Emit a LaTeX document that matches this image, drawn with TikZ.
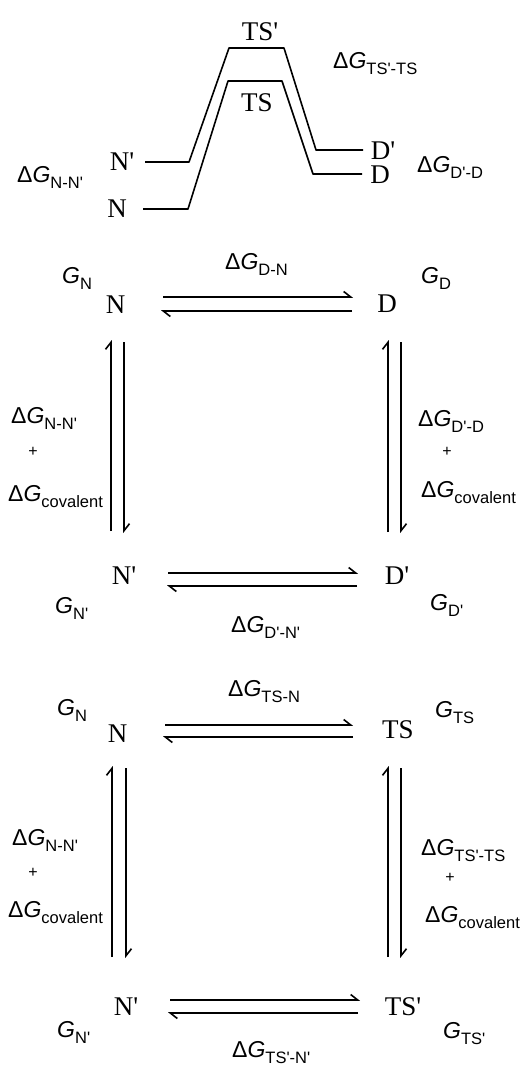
\documentclass[tikz,border=0pt]{standalone}
\usepackage{fontspec}
\setmainfont{Liberation Serif}
\setsansfont{Liberation Sans}
\usetikzlibrary{arrows.meta}
\newcommand\qp{\textquotesingle}
\newcommand\dG[1]{{\sffamily\fontsize{23}{23}\selectfont Δ\textit{G}\raisebox{-6pt}{\fontsize{16.5}{16.5}\selectfont #1}}}
\newcommand\gG[1]{{\sffamily\fontsize{23}{23}\selectfont \textit{G}\raisebox{-6pt}{\fontsize{16.5}{16.5}\selectfont #1}}}
\begin{document}
\begin{tikzpicture}[x=1pt,y=-1pt,
  st/.style={font=\fontsize{27}{27}\selectfont, inner sep=0pt},
  lb/.style={inner sep=0pt, anchor=base west},
  plus/.style={inner sep=0pt, font=\sffamily\fontsize{16}{16}\selectfont},
  harp/.style={line width=1.6pt, -{Straight Barb[harpoon,length=7pt,width=11pt]}},
  prof/.style={line width=1.6pt, line join=round}]
\useasboundingbox (0,0) rectangle (524,1066);

% ---------- energy profile ----------
\node[st] (tTSp) at (260,32) {TS\qp};
\node[st] (tTS) at (257,103) {TS};
\node[st] (tNp) at (122,162) {N\qp};
\node[st] (tN) at (117,209) {N};
\node[st] (tDp) at (383,151) {D\qp};
\node[st] (tD) at (380,175) {D};
\draw[prof] (145,162) -- (189,162) -- (229,48) -- (284,48) -- (316,150) -- (363,150);
\draw[prof] (143,209) -- (188,209) -- (228,81) -- (282,81) -- (313,174) -- (362,174);
\node[lb] (tl1) at (333,68) {\dG{TS\qp-TS}};
\node[lb] (tl2) at (417,172) {\dG{D\qp-D}};
\node[lb] (tl3) at (17,182) {\dG{N-N\qp}};

% ---------- square 1 ----------
\node[st] (aN) at (115.5,305) {N};
\node[st] (aD) at (387,304) {D};
\node[st] (aNp) at (124,576) {N\qp};
\node[st] (aDp) at (397,576) {D\qp};
\node[lb] (a1) at (225,269) {\dG{D-N}};
\node[lb] (a2) at (62,283) {\gG{N}};
\node[lb] (a3) at (421,283) {\gG{D}};
\node[lb] (a4) at (11,423) {\dG{N-N\qp}};
\node[plus] (a5) at (33,452) {+};
\node[lb] (a6) at (8,501) {\dG{covalent}};
\node[lb] (a7) at (418,426) {\dG{D\qp-D}};
\node[plus] (a8) at (447,452) {+};
\node[lb] (a9) at (421,497) {\dG{covalent}};
\node[lb] (a10) at (55,613) {\gG{N\qp}};
\node[lb] (a11) at (430,610) {\gG{D\qp}};
\node[lb] (a12) at (231,632) {\dG{D\qp-N\qp}};

\coordinate (a-h1s) at (163,297); \coordinate (a-h1e) at (353,297);
\coordinate (a-h2s) at (352,311); \coordinate (a-h2e) at (161,311);
\coordinate (a-h3s) at (168,573); \coordinate (a-h3e) at (358,573);
\coordinate (a-h4s) at (357,586); \coordinate (a-h4e) at (167,586);
\coordinate (a-v1s) at (111,531); \coordinate (a-v1e) at (111,340);
\coordinate (a-v2s) at (124,342); \coordinate (a-v2e) at (124,533);
\coordinate (a-v3s) at (388,532); \coordinate (a-v3e) at (388,340);
\coordinate (a-v4s) at (401,342); \coordinate (a-v4e) at (401,533);
\foreach \i in {1,2,3,4}{
  \draw[harp] (a-h\i s) -- (a-h\i e);
  \draw[harp] (a-v\i s) -- (a-v\i e);
}

% ---------- square 2 ----------
\node[st] (bN) at (117.5,734) {N};
\node[st] (bTS) at (398,730) {TS};
\node[st] (bNp) at (126,1007) {N\qp};
\node[st] (bTSp) at (403,1007) {TS\qp};
\node[lb] (b1) at (228,696) {\dG{TS-N}};
\node[lb] (b2) at (57,715) {\gG{N}};
\node[lb] (b3) at (435,717) {\gG{TS}};
\node[lb] (b4) at (12,845) {\dG{N-N\qp}};
\node[plus] (b5) at (33,873) {+};
\node[lb] (b6) at (8,917) {\dG{covalent}};
\node[lb] (b7) at (421,855) {\dG{TS\qp-TS}};
\node[plus] (b8) at (450,878) {+};
\node[lb] (b9) at (425,922) {\dG{covalent}};
\node[lb] (b10) at (57,1037) {\gG{N\qp}};
\node[lb] (b11) at (443,1038) {\gG{TS\qp}};
\node[lb] (b12) at (232,1057) {\dG{TS\qp-N\qp}};

\coordinate (b-h1s) at (165,725); \coordinate (b-h1e) at (353,725);
\coordinate (b-h2s) at (353,737); \coordinate (b-h2e) at (163,737);
\coordinate (b-h3s) at (170,1000); \coordinate (b-h3e) at (360,1000);
\coordinate (b-h4s) at (358,1013); \coordinate (b-h4e) at (168,1013);
\coordinate (b-v1s) at (112,957); \coordinate (b-v1e) at (112,766);
\coordinate (b-v2s) at (126,768); \coordinate (b-v2e) at (126,958);
\coordinate (b-v3s) at (388,957); \coordinate (b-v3e) at (388,766);
\coordinate (b-v4s) at (401,768); \coordinate (b-v4e) at (401,958);
\foreach \i in {1,2,3,4}{
  \draw[harp] (b-h\i s) -- (b-h\i e);
  \draw[harp] (b-v\i s) -- (b-v\i e);
}
\end{tikzpicture}
\end{document}
